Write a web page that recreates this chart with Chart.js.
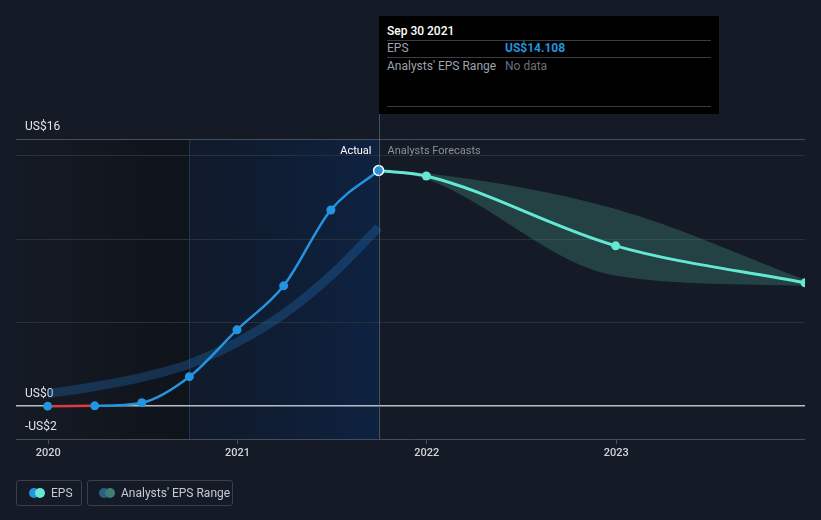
<!DOCTYPE html>
<html>
<head>
<meta charset="utf-8">
<script src="https://cdn.jsdelivr.net/npm/chart.js@4/dist/chart.umd.min.js"></script>
<style>
  html, body { margin:0; padding:0; background:#151b26; width:821px; height:520px; overflow:hidden; font-family: Roboto, "Noto Sans", sans-serif; }
  #wrap { position:relative; width:821px; height:520px; }
  canvas { position:absolute; left:0; top:0; }
  #tip { position:absolute; left:379px; top:16px; width:340px; height:98px; background:#000; }
  #tip .t { position:absolute; left:8px; top:8px; font-size:12px; color:#fff; font-weight:500; }
  #tip .ln { position:absolute; left:8px; width:324px; height:1px; background:#3a3d44; }
  #tip .lab { position:absolute; left:8px; font-size:12px; color:#9ea3ab; }
  #tip .val { position:absolute; left:126px; font-size:12px; }
  .leg { position:absolute; top:480px; height:26px; border:1px solid #3a3f4b; border-radius:3px; box-sizing:border-box; }
  .leg .d { position:absolute; top:7px; width:10px; height:10px; border-radius:50%; }
  .leg .tx { position:absolute; top:5px; font-size:12px; color:#c5c9d0; white-space:nowrap; }
</style>
</head>
<body>
<div id="wrap">
  <canvas id="c" width="821" height="520"></canvas>
  <div id="tip">
    <div class="t">Sep 30 2021</div>
    <div class="ln" style="top:24px"></div>
    <div class="lab" style="top:25px">EPS</div>
    <div class="val" style="top:25px;color:#2394df;font-weight:bold">US$14.108</div>
    <div class="ln" style="top:41px"></div>
    <div class="lab" style="top:43px">Analysts' EPS Range</div>
    <div class="val" style="top:43px;color:#6b7079">No data</div>
    <div class="ln" style="top:90px"></div>
  </div>
  <div class="leg" style="left:16px;width:66px">
    <div class="d" style="left:12px;background:#2394df"></div>
    <div class="d" style="left:18px;background:#64e8d3"></div>
    <div class="tx" style="left:34px">EPS</div>
  </div>
  <div class="leg" style="left:87px;width:146px">
    <div class="d" style="left:11px;background:#2b5f86"></div>
    <div class="d" style="left:17px;background:#3f7d77"></div>
    <div class="tx" style="left:33px">Analysts' EPS Range</div>
  </div>
</div>
<script>
// ---- data ----
const actualDates = ['2019-12-31','2020-03-31','2020-06-30','2020-09-30','2020-12-31','2021-03-31','2021-06-30','2021-09-30'];
const actualEps   = [-0.03, -0.01, 0.18, 1.74, 4.55, 7.19, 11.74, 14.108];

const forecastDates = ['2021-09-30','2021-12-31','2022-12-31','2023-12-31'];
const forecastEps   = [14.108, 13.78, 9.59, 7.37];
const rangeLow      = [14.108, 13.6, 7.8, 7.2];
const rangeHigh     = [14.108, 13.95, 11.8, 7.55];

const pastEstDates = ['2019-12-31','2020-03-31','2020-06-30','2020-09-30','2020-12-31','2021-03-31','2021-06-30','2021-09-30'];
const pastEst      = [0.72, 1.15, 1.7, 2.5, 3.8, 5.5, 7.8, 10.7];

const xTickYears = [2020, 2021, 2022, 2023];
const yTickValues = [-2, 0, 5, 10, 15, 16];
const yTickLabels = {'16':'US$16','0':'US$0','-2':'-US$2'};
const axisStart = '2019-10-31';
const axisEnd = '2023-12-31';
const shadeStart = '2020-09-30';
const actualEnd = '2021-09-30';

// ---- helpers ----
function decYear(s){
  const [y,m,d] = s.split('-').map(Number);
  const start = Date.UTC(y,0,1), next = Date.UTC(y+1,0,1);
  return y + (Date.UTC(y,m-1,d) - start) / (next - start);
}
const pts = (dates, vals) => dates.map((d,i)=>({x:decYear(d), y:vals[i]}));

const BLUE = '#2394df', TEAL = '#64e8d3';

const regionPlugin = {
  id:'regions',
  beforeDraw(chart){
    const {ctx, chartArea:a, scales:{x}} = chart;
    ctx.save();
    ctx.fillStyle = '#151b26';
    ctx.fillRect(0,0,chart.width,chart.height);
    const x0 = x.getPixelForValue(decYear(axisStart));
    const x1 = x.getPixelForValue(decYear(shadeStart));
    const x2 = x.getPixelForValue(decYear(actualEnd));
    let g = ctx.createLinearGradient(x0,0,x1,0);
    g.addColorStop(0,'rgba(10,12,16,0.05)');
    g.addColorStop(1,'rgba(10,12,16,0.55)');
    ctx.fillStyle = g;
    ctx.fillRect(x0,a.top,x1-x0,a.bottom-a.top);
    g = ctx.createLinearGradient(x1,0,x2,0);
    g.addColorStop(0,'rgba(13,26,45,0.6)');
    g.addColorStop(1,'rgba(12,35,70,0.85)');
    ctx.fillStyle = g;
    ctx.fillRect(x1,a.top,x2-x1,a.bottom-a.top);
    ctx.strokeStyle = 'rgba(40,70,120,0.6)';
    ctx.lineWidth = 1;
    ctx.beginPath(); ctx.moveTo(Math.round(x1)+0.5,a.top); ctx.lineTo(Math.round(x1)+0.5,a.bottom); ctx.stroke();
    ctx.restore();
  },
  afterDatasetsDraw(chart){
    const {ctx, chartArea:a, scales:{x}} = chart;
    const x2 = Math.round(x.getPixelForValue(decYear(actualEnd)))+0.5;
    ctx.save();
    ctx.strokeStyle = 'rgba(110,125,150,0.55)';
    ctx.lineWidth = 1;
    ctx.beginPath(); ctx.moveTo(x2,114); ctx.lineTo(x2,a.bottom); ctx.stroke();
    ctx.font = '11px Roboto, sans-serif';
    ctx.textBaseline = 'middle';
    ctx.textAlign = 'right';
    ctx.fillStyle = '#ffffff';
    ctx.fillText('Actual', x2-8, a.top+12);
    ctx.textAlign = 'left';
    ctx.fillStyle = '#8a8f98';
    ctx.fillText('Analysts Forecasts', x2+8, a.top+12);
    ctx.restore();
  }
};

const lastIdx = actualEps.length-1;
new Chart(document.getElementById('c'), {
  type:'line',
  data:{
    datasets:[
      {
        data: pts(actualDates, actualEps),
        borderColor: BLUE, borderWidth: 2.5,
        cubicInterpolationMode:'monotone',
        pointRadius: c => c.dataIndex===lastIdx ? 5 : 4.5,
        pointBackgroundColor: BLUE,
        pointBorderColor: c => c.dataIndex===lastIdx ? '#ffffff' : BLUE,
        pointBorderWidth: c => c.dataIndex===lastIdx ? 1.5 : 0,
        segment:{ borderColor: c => (c.p0.parsed.y<0 && c.p1.parsed.y<0) ? '#e0393e' : BLUE },
        fill:false
      },
      {
        data: pts(forecastDates, forecastEps),
        borderColor: TEAL, borderWidth: 3,
        cubicInterpolationMode:'monotone',
        pointRadius: c => c.dataIndex===0 ? 0 : 4.5,
        pointBackgroundColor: TEAL, pointBorderWidth:0,
        fill:false
      },
      {
        data: pts(forecastDates, rangeHigh),
        borderWidth:0, pointRadius:0,
        cubicInterpolationMode:'monotone',
        backgroundColor:'rgba(85,183,158,0.25)',
        fill:'+1'
      },
      {
        data: pts(forecastDates, rangeLow),
        borderWidth:0, pointRadius:0,
        cubicInterpolationMode:'monotone',
        fill:false
      },
      {
        data: pts(pastEstDates, pastEst),
        borderColor:'rgba(38,120,200,0.3)', borderWidth:9,
        borderCapStyle:'butt',
        pointRadius:0,
        cubicInterpolationMode:'monotone',
        fill:false
      }
    ]
  },
  options:{
    responsive:false, animation:false,
    layout:{ padding:{ left:16, right:16, top:139, bottom:59 } },
    plugins:{ legend:{display:false}, tooltip:{enabled:false} },
    events:[],
    scales:{
      x:{
        type:'linear',
        min: decYear(axisStart), max: decYear(axisEnd),
        afterBuildTicks: s => { s.ticks = xTickYears.map(v=>({value:v})); },
        afterFit: s => { s.height = 22; },
        grid:{ drawOnChartArea:false, drawTicks:true, tickLength:5, color:'#4a4f5a' },
        border:{ display:false },
        ticks:{ color:'#d0d3d8', font:{ family:'Roboto', size:11, weight:'500' }, padding:3, maxRotation:0,
          callback: v => String(v) }
      },
      y:{
        type:'linear', min:-2, max:16,
        afterBuildTicks: s => { s.ticks = yTickValues.map(v=>({value:v})); },
        afterFit: s => { s.width = 0; },
        grid:{
          drawTicks:false,
          color: c => c.tick.value===0 ? '#b9bcc2' : (c.tick.value===16 || c.tick.value===-2) ? '#474c57' : '#2a2f39',
          lineWidth: c => c.tick.value===0 ? 1.5 : 1
        },
        border:{ display:false },
        ticks:{ mirror:true, padding:9, labelOffset:-12, color:'#e2e4e8',
          font:{ family:'Roboto', size:12 },
          callback: v => yTickLabels[String(v)] || '' }
      }
    }
  },
  plugins:[regionPlugin]
});
</script>
</body>
</html>
